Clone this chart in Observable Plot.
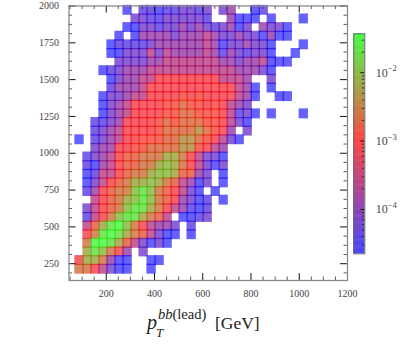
<!DOCTYPE html>
<html>
<head>
<meta charset="utf-8">
<script src="https://cdn.jsdelivr.net/npm/d3@7"></script>
<script src="https://cdn.jsdelivr.net/npm/@observablehq/plot@0.6"></script>
<style>
html,body{margin:0;padding:0;background:#fff;}
#chart{position:relative;width:400px;height:345px;overflow:hidden;}
#chart svg{position:absolute;top:0;background:transparent;font-family:"Liberation Serif",serif !important;}
#chart svg text{font-family:"Liberation Serif",serif !important;}
#xlabel{position:absolute;left:0;top:0;font-family:"Liberation Serif",serif;color:#222;white-space:nowrap;}
#xlabel span{position:absolute;white-space:nowrap;}
i{font-style:italic;}
</style>
</head>
<body>
<div id="chart">
<div id="xlabel">
<span style="left:147px;top:311px;font-size:20px;"><i>p</i></span>
<span style="left:156px;top:325px;font-size:13px;"><i>T</i></span>
<span style="left:158px;top:306px;font-size:14.5px;"><i>bb</i>(lead)</span>
<span style="left:215px;top:313px;font-size:17.5px;">[GeV]</span>
</div>
</div>
<script>
// log10 of the density x 10, one list per histogram row (top to bottom); 0 = empty bin
const r00=[0,0,0,0,0,0,-46,0,-44,-44,-46,-44,-44,-42,-42,-44,-42,0,-42,-39,0,0,-46,-44];
const r01=[0,0,0,0,0,0,0,-42,-42,-44,-44,-42,-42,-42,-42,-42,-44,0,0,-39,-46,-46,-46,0,-46,0,0,0,-46];
const r02=[0,0,0,0,0,0,-46,-46,-42,-42,-44,-42,-42,-39,-42,-39,-42,-44,-42,-39,-46,-42,0,-39,-42,-42,-46];
const r03=[0,0,0,0,0,-46,0,-46,-39,-39,-39,-39,-42,-39,-39,-39,-36,-39,-42,-42,-39,-42,-42,-46,-39,-46,-46];
const r04=[0,0,0,0,-46,-44,-44,-44,-44,-42,-39,-39,-39,-39,-39,-39,-36,-39,-46,-42,-42,-39,-42,-42,-46,0,0,0,-46];
const r05=[0,0,0,0,-46,-46,-42,-42,-42,-36,-42,-36,-39,-39,-39,-39,-36,-39,-44,-39,-42,-44,-42,-42,-46,0,0,-46];
const r06=[0,0,0,0,0,-42,-42,-42,-42,-39,-39,-36,-36,-36,-36,-36,-36,-36,-39,-39,-42,-39,-39,-36,-46,-46,-46];
const r07=[0,0,0,-46,-44,-42,-39,-39,-39,-36,-36,-36,-36,-36,-36,-36,-36,-36,-36,-36,-39,-39,-39,-42,-46];
const r08=[0,0,0,0,-46,-42,-39,-39,-36,-36,-31,-31,-31,-31,-31,-31,-31,-31,-36,-36,-36,-39,0,0,-42];
const r09=[0,0,0,0,-44,-39,-39,-39,-36,-31,-31,-31,-31,-31,-31,-31,-31,-31,-31,-31,-36,-39,-46,0,-46];
const r10=[0,0,0,-46,-42,-42,-39,-36,-36,-31,-31,-31,-31,-29,-31,-29,-31,-31,-31,-31,-36,-39,-46,0,0,-46,-46];
const r11=[0,0,0,-46,-42,-39,-36,-31,-31,-31,-31,-29,-29,-27,-29,-29,-31,-29,-31,-36,-39,-42];
const r12=[0,0,0,-46,-42,-39,-36,-31,-31,-31,-31,-29,-29,-27,-27,-29,-29,-29,-31,-36,-44,-42,-46,0,-46,0,0,0,-46];
const r13=[0,0,-44,-44,-42,-39,-31,-31,-31,-31,-29,-27,-29,-27,-27,-27,-29,-29,-31,-36,-42,-46];
const r14=[0,0,-44,-42,-39,-36,-31,-31,-31,-31,-29,-27,-27,-27,-27,-24,-27,-29,-31,-39,0,-42];
const r15=[-46,0,-44,-42,-39,-36,-31,-31,-29,-29,-29,-27,-27,-24,-24,-27,-29,-31,-36,-42,-46];
const r16=[0,0,-42,-39,-39,-31,-31,-29,-29,-27,-27,-27,-27,-24,-24,-29,-31,-36,-39];
const r17=[0,-44,-42,-39,-36,-31,-28,-28,-26,-26,-26,-22,-22,-26,-31,-36,-42,-42,-46];
const r18=[0,-44,-46,-39,-36,-31,-28,-28,-26,-26,-22,-20,-22,-26,-31,-36,-42,-46,-42];
const r19=[0,-46,-44,-36,-36,-31,-28,-26,-26,-22,-20,-20,-22,-28,-28,-39,-42,0,-46];
const r20=[0,-46,-42,-36,-31,-28,-26,-22,-22,-20,-22,-26,-28,-36,-39,-46,-42,0,-46];
const r21=[0,-44,-39,-31,-28,-26,-26,-20,-17,-20,-26,-28,-31,-36,-42,-46,0,-46];
const r22=[0,0,-36,-31,-28,-26,-22,-20,-17,-20,-26,-28,-31,-39,-42,-46,-44,0,-46];
const r23=[0,-42,-36,-31,-28,-26,-20,-17,-17,-22,-26,-31,-36,-39,-44,-46,-44];
const r24=[0,-44,-36,-31,-26,-20,-17,-17,-22,-26,-28,-36,0,-46,-46,-44,-42];
const r25=[0,-36,-28,-22,-17,-15,-20,-26,-31,-36,-39,-39,-42,0,-44];
const r26=[0,-31,-26,-17,-15,-17,-22,-26,-28,-36,-42,-46,-46,0,-46];
const r27=[0,-26,-15,-15,-17,-22,-28,-36,-42,-46,-42,-46];
const r28=[0,-22,-17,-20,-26,-31,-39,0,-42];
const r29=[-31,-22,-22,-26,-39,-46,-46,0,0,-46,-46];
const r30=[-26,-26,-31,-36,-42,-46,-46,0,0,-46];
const rows=[r00,r01,r02,r03,r04,r05,r06,r07,r08,r09,r10,r11,r12,r13,r14,r15,r16,r17,r18,r19,r20,r21,r22,r23,r24,r25,r26,r27,r28,r29,r30];

// histogram binning (GeV)
const xFirstEdge=72.6, xBinWidth=33.2, yFirstEdge=2000, yBinHeight=58.6;

// axes
const xLabels=[200,400,600,800,1000,1200];
const xMinor=[50,100,150,250,300,350,450,500,550,650,700,750,850,900,950,1050,1100,1150];
const yLabels=[250,500,750,1000,1250,1500,1750,2000];
const yMinor=[187.5,312.5,375,437.5,562.5,625,687.5,812.5,875,937.5,1062.5,1125,1187.5,1312.5,1375,1437.5,1562.5,1625,1687.5,1812.5,1875,1937.5];
const barLabels=[1e-4,1e-3,1e-2];
const barMinor=[3e-5,4e-5,5e-5,6e-5,7e-5,8e-5,9e-5,2e-4,3e-4,4e-4,5e-4,6e-4,7e-4,8e-4,9e-4,2e-3,3e-3,4e-3,5e-3,6e-3,7e-3,8e-3,9e-3,2e-2,3e-2];
const barExponents={"0.0001":"−4","0.001":"−3","0.01":"−2"};

// colour scale
const colorDomain=[Math.pow(10,-4.65),1e-3,Math.pow(10,-1.43)];
const colorRange=["#0000ff","#ff0000","#00ff00"];

const cells=[];
rows.forEach((row,r)=>row.forEach((v,c)=>{
  if(v!==0) cells.push({x1:xFirstEdge+c*xBinWidth,x2:xFirstEdge+(c+1)*xBinWidth,
    y1:yFirstEdge-r*yBinHeight,y2:yFirstEdge-(r+1)*yBinHeight,density:Math.pow(10,v/10)});
}));

const color={type:"log",domain:colorDomain,range:colorRange,interpolate:"rgb",clamp:true};
const serif="Liberation Serif";
const innerH=345-5.5-65, innerW=347-68.5;
const tickStroke="#333";

const main=Plot.plot({
  width:400,height:345,marginLeft:68.5,marginRight:53,marginTop:5.5,marginBottom:65,
  style:{background:"transparent",fontFamily:serif},
  x:{domain:[45.6,1200]},
  y:{domain:[136,2000]},
  color,
  marks:[
    Plot.rect(cells,{x1:"x1",x2:"x2",y1:"y1",y2:"y2",fill:"density",fillOpacity:0.62,inset:-0.65}),
    Plot.tickX(xMinor,{x:d=>d,insetTop:innerH-3.5,stroke:tickStroke,strokeWidth:0.8}),
    Plot.tickX(xLabels,{x:d=>d,insetTop:innerH-7,stroke:"#111",strokeWidth:1}),
    Plot.tickX(xMinor,{x:d=>d,insetBottom:innerH-3.5,stroke:tickStroke,strokeWidth:0.8}),
    Plot.tickX(xLabels,{x:d=>d,insetBottom:innerH-7,stroke:"#111",strokeWidth:1}),
    Plot.tickY(yMinor,{y:d=>d,insetRight:innerW-3.5,stroke:tickStroke,strokeWidth:0.8}),
    Plot.tickY(yLabels,{y:d=>d,insetRight:innerW-7,stroke:"#111",strokeWidth:1}),
    Plot.tickY(yMinor,{y:d=>d,insetLeft:innerW-3.5,stroke:tickStroke,strokeWidth:0.8}),
    Plot.tickY(yLabels,{y:d=>d,insetLeft:innerW-7,stroke:"#111",strokeWidth:1}),
    Plot.frame({stroke:"#8a8a8a",strokeWidth:1.3}),
    Plot.axisX({ticks:xLabels,tickSize:0,tickPadding:9,tickFormat:d=>String(d),label:null,fontSize:10,fill:"#444"}),
    Plot.axisY({ticks:yLabels,tickSize:0,tickPadding:10,tickFormat:d=>String(d),label:null,fontSize:10,fill:"#444"})
  ]
});
main.style.left="0px";

const logLo=Math.log10(colorDomain[0]), logHi=Math.log10(colorDomain[2]);
const bands=d3.range(64).map(i=>({
  y1:Math.pow(10,logLo+(logHi-logLo)*i/64),
  y2:Math.pow(10,logLo+(logHi-logLo)*(i+1)/64)
}));

const bar=Plot.plot({
  width:55,height:345,marginLeft:8.3,marginRight:35.7,marginTop:33.3,marginBottom:91.7,
  style:{background:"transparent",fontFamily:serif,overflow:"visible"},
  y:{type:"log",domain:[colorDomain[0],colorDomain[2]]},
  color,
  marks:[
    Plot.rect(bands,{y1:"y1",y2:"y2",fill:d=>Math.sqrt(d.y1*d.y2),fillOpacity:0.72,inset:-0.1}),
    Plot.tickY(barMinor,{y:d=>d,insetLeft:8.5,stroke:"#222",strokeWidth:0.8}),
    Plot.tickY(barLabels,{y:d=>d,insetLeft:7,stroke:"#111",strokeWidth:1}),
    Plot.frame({stroke:"#666",strokeWidth:1}),
    Plot.axisY({anchor:"right",ticks:barLabels,tickSize:0,tickPadding:11,
      tickFormat:()=>"10",label:null,fontSize:12,fill:"#444"}),
    Plot.text(barLabels,{y:d=>d,frameAnchor:"right",dx:23,dy:-4,textAnchor:"start",
      text:d=>barExponents[String(d)],fontSize:8.5,fill:"#444"})
  ]
});
bar.style.left="345px";

const host=document.getElementById("chart");
host.appendChild(main);
host.appendChild(bar);
</script>
</body>
</html>
